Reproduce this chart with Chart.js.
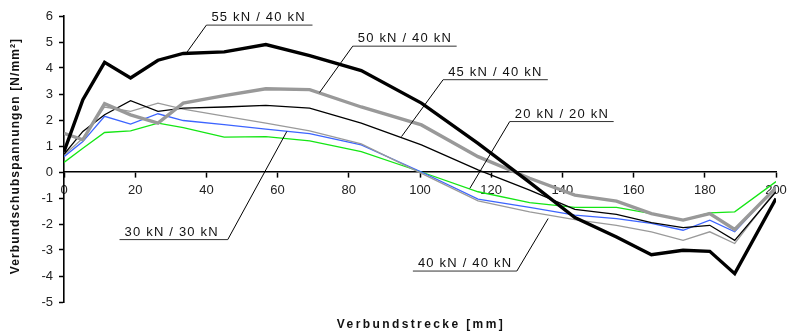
<!DOCTYPE html>
<html>
<head>
<meta charset="utf-8">
<script src="https://cdn.jsdelivr.net/npm/chart.js@4/dist/chart.umd.min.js"></script>
<style>
  body { margin: 0; background: #fff; }
  #wrap { width: 787px; height: 333px; }
</style>
</head>
<body>
<div id="wrap"><canvas id="chart" width="787" height="333"></canvas></div>
<script>
// Verbundstrecke [mm] - measuring points
const positions = [0, 5.3, 11.4, 18.7, 26.4, 33.5, 45, 56.7, 69, 83.5, 100.4, 116.3, 130.8, 143.5, 155.2, 165, 173.9, 181.4, 188.4, 200];

// Verbundschubspannungen [N/mm²] per load step
const s55_40 = [0.78, 2.78, 4.22, 3.62, 4.3, 4.56, 4.62, 4.9, 4.48, 3.9, 2.65, 1.1, -0.4, -1.75, -2.5, -3.18, -3.01, -3.05, -3.91, -1.02];
const s50_40 = [1.49, 1.24, 2.63, 2.2, 1.88, 2.65, 2.94, 3.2, 3.17, 2.5, 1.81, 0.59, -0.24, -0.89, -1.12, -1.6, -1.85, -1.6, -2.21, -0.6];
const s45_40 = [0.68, 1.56, 2.2, 2.74, 2.33, 2.46, 2.5, 2.56, 2.46, 1.88, 1.04, 0.08, -0.7, -1.44, -1.63, -1.95, -2.14, -2.05, -2.63, -0.76];
const s40_40 = [0.65, 1.3, 2.5, 2.33, 2.65, 2.42, 2.15, 1.88, 1.58, 1.08, -0.05, -1.11, -1.53, -1.83, -2.05, -2.3, -2.63, -2.3, -2.75, -0.69];
const s30_30 = [0.59, 1.17, 2.14, 1.84, 2.24, 1.98, 1.82, 1.65, 1.48, 1.04, 0, -1.04, -1.36, -1.66, -1.79, -1.98, -2.24, -1.85, -2.3, -0.57];
const s20_20 = [0.37, 0.91, 1.52, 1.58, 1.88, 1.71, 1.34, 1.36, 1.2, 0.78, 0, -0.76, -1.18, -1.36, -1.36, -1.6, -1.85, -1.57, -1.53, -0.37];

const xTicks = [0, 20, 40, 60, 80, 100, 120, 140, 160, 180, 200];
const yTicks = [-5, -4, -3, -2, -1, 0, 1, 2, 3, 4, 5, 6];

// label callouts: underline from x1..x2 at y, leader line to (tx, ty), in data units
const callouts = [
  { text: '55 kN / 40 kN', x1: 40.0, x2: 69.8, y: 5.65, from: 'x1', tx: 34.4, ty: 4.58 },
  { text: '50 kN / 40 kN', x1: 81.1, x2: 110.3, y: 4.84, from: 'x1', tx: 71.8, ty: 3.06 },
  { text: '45 kN / 40 kN', x1: 106.5, x2: 135.9, y: 3.55, from: 'x1', tx: 94.8, ty: 1.36 },
  { text: '20 kN / 20 kN', x1: 125.2, x2: 154.4, y: 1.94, from: 'x1', tx: 114.0, ty: -0.63 },
  { text: '30 kN / 30 kN', x1: 15.6, x2: 46.0, y: -2.6, from: 'x2', tx: 62.6, ty: 1.56 },
  { text: '40 kN / 40 kN', x1: 98.0, x2: 127.2, y: -3.81, from: 'x2', tx: 136.0, ty: -1.79 }
];

const toPoints = (vals) => vals.map((v, i) => ({ x: positions[i], y: v }));

const series = [
  { label: '55 kN / 40 kN', data: s55_40, color: '#000000', width: 3.4 },
  { label: '50 kN / 40 kN', data: s50_40, color: '#999999', width: 3.4 },
  { label: '45 kN / 40 kN', data: s45_40, color: '#000000', width: 1.3 },
  { label: '40 kN / 40 kN', data: s40_40, color: '#9a9a9a', width: 1.3 },
  { label: '30 kN / 30 kN', data: s30_30, color: '#3c64ff', width: 1.3 },
  { label: '20 kN / 20 kN', data: s20_20, color: '#14e614', width: 1.3 }
];

const annotations = {
  id: 'annotations',
  afterDraw(chart) {
    const ctx = chart.ctx;
    const xs = chart.scales.x, ys = chart.scales.y;
    ctx.save();
    ctx.font = '13px "Liberation Sans", Arial, sans-serif';
    ctx.letterSpacing = '1.2px';
    ctx.textBaseline = 'alphabetic';
    ctx.textAlign = 'left';
    callouts.forEach(c => {
      const px1 = xs.getPixelForValue(c.x1), px2 = xs.getPixelForValue(c.x2);
      const py = ys.getPixelForValue(c.y);
      ctx.fillStyle = '#111';
      ctx.fillText(c.text, px1 + 5, py - 4);
      ctx.strokeStyle = '#333';
      ctx.lineWidth = 1;
      ctx.beginPath();
      ctx.moveTo(px1, py);
      ctx.lineTo(px2, py);
      ctx.stroke();
      const sx = c.from === 'x1' ? px1 : px2;
      ctx.strokeStyle = '#000';
      ctx.beginPath();
      ctx.moveTo(sx, py);
      ctx.lineTo(xs.getPixelForValue(c.tx), ys.getPixelForValue(c.ty));
      ctx.stroke();
    });

    // axis titles
    ctx.fillStyle = '#111';
    ctx.font = 'bold 12px "Liberation Sans", Arial, sans-serif';
    ctx.letterSpacing = '2.4px';
    ctx.textAlign = 'center';
    ctx.fillText('Verbundstrecke [mm]', 421, 328);
    ctx.letterSpacing = '1.1px';
    ctx.translate(19, 156);
    ctx.rotate(-Math.PI / 2);
    ctx.fillText('Verbundschubspannungen [N/mm²]', 0, 0);
    ctx.restore();
  }
};

new Chart(document.getElementById('chart').getContext('2d'), {
  type: 'line',
  data: {
    datasets: series.map(s => ({
      label: s.label,
      data: toPoints(s.data),
      borderColor: s.color,
      backgroundColor: s.color,
      borderWidth: s.width,
      pointRadius: 0,
      tension: 0,
      fill: false
    }))
  },
  options: {
    responsive: false,
    animation: false,
    layout: { padding: { left: 0, right: 11, top: 16, bottom: 31 } },
    plugins: {
      legend: { display: false },
      tooltip: { enabled: false }
    },
    scales: {
      x: {
        type: 'linear',
        position: { y: 0 },
        min: 0,
        max: 200,
        afterBuildTicks: (scale) => { scale.ticks = xTicks.map(v => ({ value: v })); },
        afterFit: (scale) => { scale.paddingLeft = 0; scale.paddingRight = 0; },
        ticks: {
          color: '#222',
          padding: 6,
          maxRotation: 0,
          font: { size: 13, family: '"Liberation Sans", Arial, sans-serif' }
        },
        grid: { drawOnChartArea: false, tickLength: 5, color: '#000', tickWidth: 1.5 },
        border: { display: true, color: '#000', width: 1.6 }
      },
      y: {
        min: -5,
        max: 6,
        afterBuildTicks: (scale) => { scale.ticks = yTicks.map(v => ({ value: v })); },
        afterFit: (scale) => { scale.width = 64; },
        ticks: {
          color: '#222',
          padding: 6,
          font: { size: 13, family: '"Liberation Sans", Arial, sans-serif' }
        },
        grid: { drawOnChartArea: false, tickLength: 5, color: '#000', tickWidth: 1.5 },
        border: { display: true, color: '#000', width: 1.6 }
      }
    }
  },
  plugins: [annotations]
});
</script>
</body>
</html>
